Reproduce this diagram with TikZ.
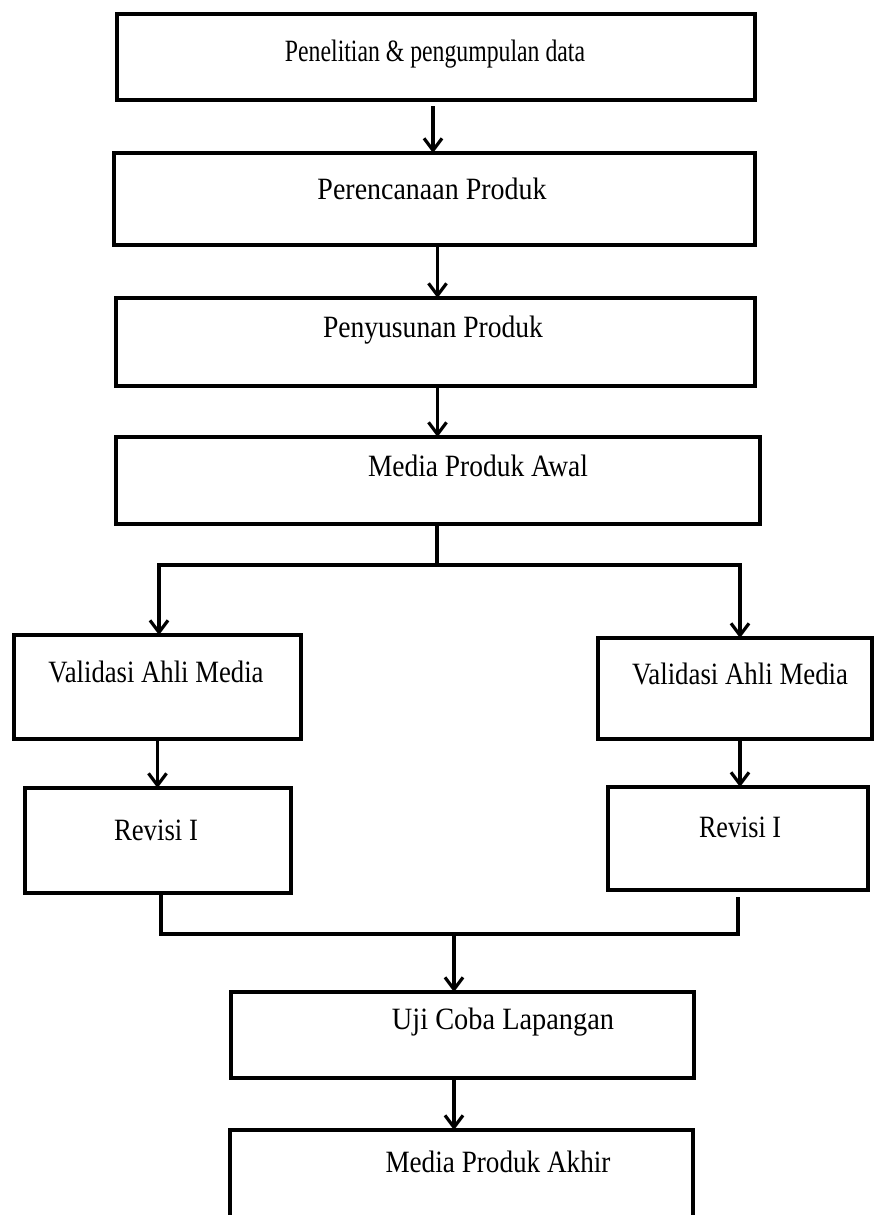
\documentclass[tikz,border=0pt]{standalone}
\usepackage{fontspec}
\setmainfont{Liberation Serif}
\usetikzlibrary{arrows.meta}
\newcommand{\tx}[2]{\resizebox{#1}{\height}{#2}}
\begin{document}
\begin{tikzpicture}[x=1pt,y=-1pt,
  box/.style={draw=black, line width=3.6pt, fill=white, inner sep=0pt, outer sep=0pt},
  lbl/.style={anchor=base, inner sep=0pt, font=\fontsize{31}{36}\selectfont},
  conn/.style={line width=3.2pt},
  arr/.style={conn, -{Straight Barb[length=12pt,width=18pt]}}]
\clip (0,0) rectangle (875,1215);
\fill[white] (0,0) rectangle (875,1215);
% boxes
\node[box, minimum width=638pt, minimum height=86pt] (b1) at (436,57) {};
\node[box, minimum width=641pt, minimum height=92pt] (b2) at (434.5,199) {};
\node[box, minimum width=639pt, minimum height=88pt] (b3) at (435.5,342) {};
\node[box, minimum width=644pt, minimum height=87pt] (b4) at (438,480.5) {};
\node[box, minimum width=287pt, minimum height=104pt] (vl) at (157.5,687) {};
\node[box, minimum width=274pt, minimum height=101pt] (vr) at (735,688.5) {};
\node[box, minimum width=266pt, minimum height=105pt] (rl) at (158,840.5) {};
\node[box, minimum width=260pt, minimum height=103pt] (rr) at (738,838.5) {};
\node[box, minimum width=463pt, minimum height=86pt] (uji) at (462.5,1035) {};
\node[box, minimum width=463pt, minimum height=140pt] (akhir) at (461.5,1200) {};
% texts
\node[lbl] (t1) at (435,62) {\tx{300pt}{Penelitian \& pengumpulan data}};
\node[lbl] (t2) at (432,199) {\tx{229pt}{Perencanaan Produk}};
\node[lbl] (t3) at (433,337) {\tx{220pt}{Penyusunan Produk}};
\node[lbl] (t4) at (478,476) {\tx{220pt}{Media Produk Awal}};
\node[lbl] (t5) at (156,682) {\tx{215pt}{Validasi Ahli Media}};
\node[lbl] (t6) at (740,684) {\tx{216pt}{Validasi Ahli Media}};
\node[lbl] (t7) at (156,840) {\tx{84pt}{Revisi I}};
\node[lbl] (t8) at (740,837) {\tx{82pt}{Revisi I}};
\node[lbl] (t9) at (503,1029) {\tx{222pt}{Uji Coba Lapangan}};
\node[lbl] (t10) at (498,1172) {\tx{225pt}{Media Produk Akhir}};
% connectors
\coordinate (split) at (437,565);
\coordinate (merge) at (454,934);
\draw[arr] ([xshift=-3pt,yshift=-6pt]b1.south) -- ([xshift=-3pt]b1.south |- b2.north);
\draw[arr] ([xshift=3pt,yshift=-2pt]b2.south) -- ([xshift=3pt]b2.south |- b3.north);
\draw[arr] ([xshift=2pt]b3.south) -- ([xshift=2pt]b3.south |- b4.north);
\draw[conn] ([xshift=-1pt]b4.south) -- (split);
\draw[arr] (split) -| ([xshift=1.5pt]vl.north);
\draw[arr] (split) -| ([xshift=5pt]vr.north);
\draw[arr] ([yshift=-1pt]vl.south) -- (vl.south |- rl.north);
\draw[arr] ([xshift=5pt]vr.south) -- ([xshift=5pt]vr.south |- rr.north);
\draw[conn] ([xshift=3pt]rl.south) |- (merge);
\draw[conn] ([yshift=-7pt]rr.south) |- (merge);
\draw[arr] (merge) -- (merge |- uji.north);
\draw[arr] (uji.south -| merge) -- (akhir.north -| merge);
\end{tikzpicture}
\end{document}
